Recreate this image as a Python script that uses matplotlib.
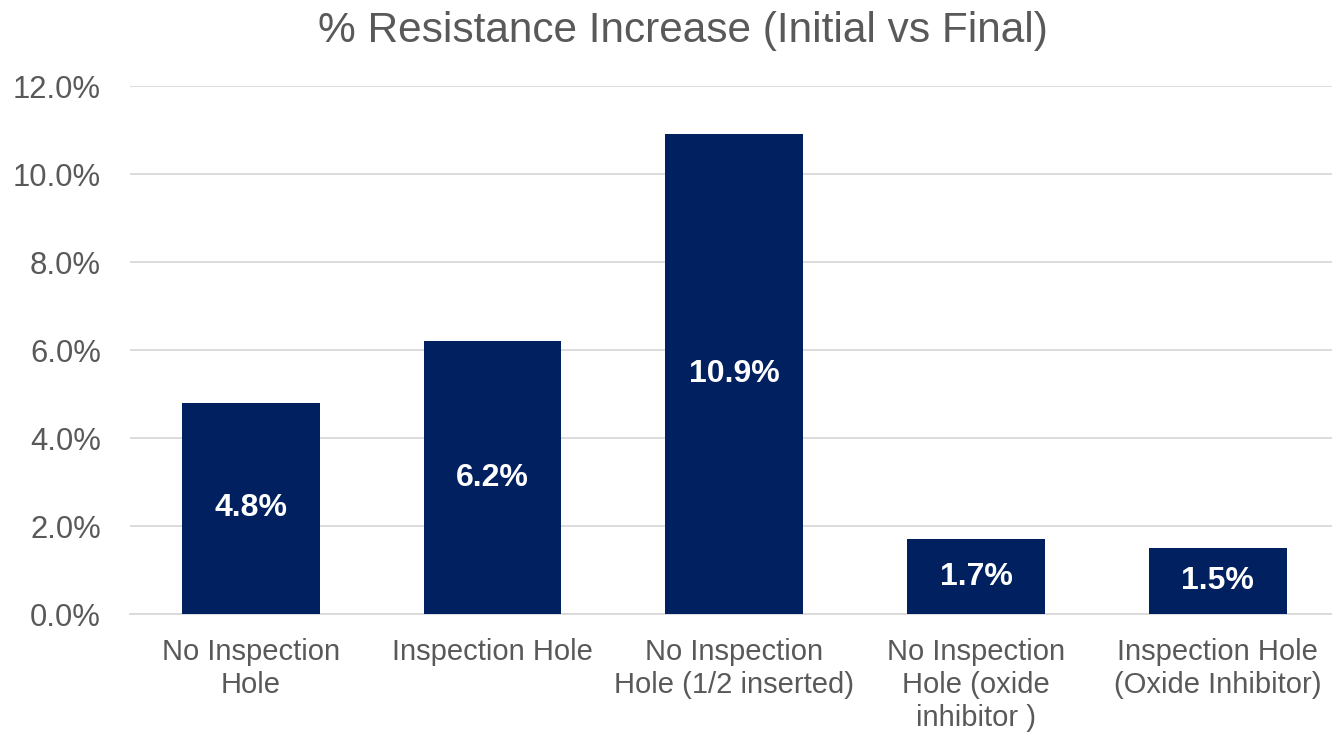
import numpy as np
import matplotlib.pyplot as plt
from matplotlib.ticker import PercentFormatter

plt.rcParams['font.family'] = ['Liberation Sans', 'DejaVu Sans']

# 데이터
categories = ["No Inspection\nHole", "Inspection Hole", "No Inspection\nHole (1/2 inserted)",
              "No Inspection\nHole (oxide\ninhibitor )", "Inspection Hole\n(Oxide Inhibitor)"]
values = [0.048, 0.062, 0.109, 0.017, 0.015]
yticks = [0.0, 0.02, 0.04, 0.06, 0.08, 0.10, 0.12]

grey = '#595959'
bar_color = '#002060'

fig = plt.figure(figsize=(13.32, 7.32), dpi=100)
ax = fig.add_axes([0.0976, 0.1612, 0.9074, 0.7213])

x = np.arange(len(categories))
bars = ax.bar(x, values, width=0.57, color=bar_color, zorder=3)

# 막대 라벨
for xi, v in zip(x, values):
    ax.text(xi, v / 2, f"{v*100:.1f}%", ha='center', va='center', color='white',
            fontsize=23, fontweight='bold', zorder=4)

ax.set_xlim(-0.5, 4.5)
ax.set_ylim(0, 0.12)
ax.set_yticks(yticks)
ax.yaxis.set_major_formatter(PercentFormatter(1.0, decimals=1))
ax.set_xticks(x)
ax.set_xticklabels(categories, linespacing=1.24)

ax.grid(axis='y', color='#d9d9d9', linewidth=1.3, zorder=0)
for s in ['top', 'right', 'left']:
    ax.spines[s].set_visible(False)
ax.spines['bottom'].set_color('#d9d9d9')
ax.spines['bottom'].set_linewidth(1.3)

ax.tick_params(axis='y', length=0, pad=21, labelsize=22.3, labelcolor=grey)
ax.tick_params(axis='x', length=0, pad=17, labelsize=21, labelcolor=grey)

fig.text(0.513, 0.958, "% Resistance Increase (Initial vs Final)", ha='center', va='center',
         fontsize=30.5, color=grey)

fig.savefig("out.png", dpi=100)
